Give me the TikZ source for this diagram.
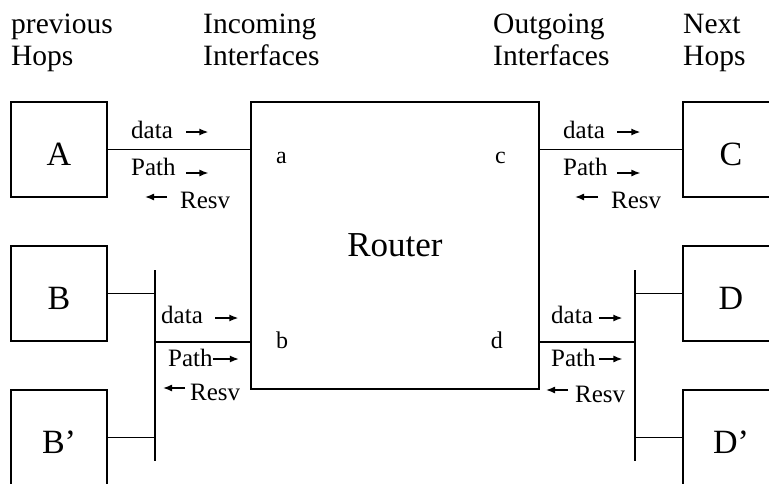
\documentclass[tikz,border=0pt]{standalone}
\usepackage{fontspec}
\setmainfont{Liberation Serif}
\usetikzlibrary{arrows.meta}
\begin{document}
\begin{tikzpicture}[x=1pt,y=-1pt,
  wire/.style={line width=1.3pt},
  hopbox/.style={draw, line width=1.3pt, minimum width=96pt, minimum height=95pt,
    inner sep=0pt, font=\fontsize{34}{34}\selectfont, text height=31pt, text depth=0pt},
  routerbox/.style={draw, line width=1.3pt, minimum width=288pt, minimum height=287pt,
    inner sep=0pt, font=\fontsize{35}{35}\selectfont},
  heading/.style={anchor=base west, inner sep=0pt, font=\fontsize{29.5}{32}\selectfont},
  port/.style={inner sep=0pt, font=\fontsize{24}{24}\selectfont},
  msg/.style={anchor=base west, inner sep=0pt, font=\fontsize{25}{25}\selectfont},
  flow/.style={line width=1.4pt, -{Latex[length=9pt,width=7pt]}},
]
\clip (0,0) rectangle (769,483);

% column headings
\node[heading] (h1a) at (11,33) {previous};
\node[heading] (h1b) at (11,65) {Hops};
\node[heading] (h2a) at (203,33) {Incoming};
\node[heading] (h2b) at (203,65) {Interfaces};
\node[heading] (h3a) at (493,33) {Outgoing};
\node[heading] (h3b) at (493,65) {Interfaces};
\node[heading] (h4a) at (683,33) {Next};
\node[heading] (h4b) at (683,65) {Hops};

% router and its interfaces
\node[routerbox] (router) at (395,245.5) {Router};
\node[port, anchor=base west] (pa) at (276,163) {a};
\node[port, anchor=base west] (pb) at (276,348) {b};
\node[port, anchor=base east] (pc) at (506,163) {c};
\node[port, anchor=base east] (pd) at (503,348) {d};

% neighbouring hops
\node[hopbox] (A)  at (59,149.5)  {A};
\node[hopbox] (B)  at (59,293.5)  {B};
\node[hopbox] (B2) at (59,437.5)  {B’};
\node[hopbox] (C)  at (731,149.5) {C};
\node[hopbox] (D)  at (731,293.5) {D};
\node[hopbox] (D2) at (731,437.5) {D’};

% shared segments
\coordinate (busLtop) at (155,270);
\coordinate (busLbot) at (155,461);
\coordinate (busRtop) at (635,270);
\coordinate (busRbot) at (635,461);
\coordinate (ib) at (251,342);
\coordinate (id) at (539,342);

\draw[wire] (busLtop) -- (busLbot);
\draw[wire] (busRtop) -- (busRbot);

% links
\draw[wire] (A.east) -- (A.east -| router.west);
\draw[wire] (C.west) -- (C.west -| router.east);
\draw[wire] (B.east) -- (B.east -| busLtop);
\draw[wire] (B2.east) -- (B2.east -| busLtop);
\draw[wire] (ib -| busLtop) -- (ib);
\draw[wire] (D.west) -- (D.west -| busRtop);
\draw[wire] (D2.west) -- (D2.west -| busRtop);
\draw[wire] (id) -- (id -| busRtop);

% messages on link a
\node[msg] (da) at (131,138) {data};
\node[msg] (pa1) at (131,175) {Path};
\node[msg] (ra) at (180,208) {Resv};
\draw[flow] ([xshift=13.3pt,yshift=6pt]da.base east) -- ++(22,0);
\draw[flow] ([xshift=10.6pt,yshift=2pt]pa1.base east) -- ++(22,0);
\draw[flow] ([xshift=-13pt,yshift=11pt]ra.base west) -- ++(-22,0);

% messages on link c
\node[msg] (dc) at (563,138) {data};
\node[msg] (pc1) at (563,175) {Path};
\node[msg] (rc) at (611,208) {Resv};
\draw[flow] ([xshift=12.3pt,yshift=6pt]dc.base east) -- ++(23,0);
\draw[flow] ([xshift=9.6pt,yshift=2pt]pc1.base east) -- ++(23,0);
\draw[flow] ([xshift=-13pt,yshift=11pt]rc.base west) -- ++(-23,0);

% messages on link b
\node[msg] (db) at (161,323) {data};
\node[msg] (pb1) at (168,366) {Path};
\node[msg] (rb) at (190,400) {Resv};
\draw[flow] ([xshift=12.3pt,yshift=5pt]db.base east) -- ++(23,0);
\draw[flow] ([xshift=0pt,yshift=7pt]pb1.base east) -- ++(26,0);
\draw[flow] ([xshift=-5pt,yshift=12pt]rb.base west) -- ++(-22,0);

% messages on link d
\node[msg] (dd) at (551,323) {data};
\node[msg] (pd1) at (551,366) {Path};
\node[msg] (rd) at (575,402) {Resv};
\draw[flow] ([xshift=6.3pt,yshift=5pt]dd.base east) -- ++(23,0);
\draw[flow] ([xshift=3.6pt,yshift=7pt]pd1.base east) -- ++(23,0);
\draw[flow] ([xshift=-7pt,yshift=12pt]rd.base west) -- ++(-22,0);
\end{tikzpicture}
\end{document}
